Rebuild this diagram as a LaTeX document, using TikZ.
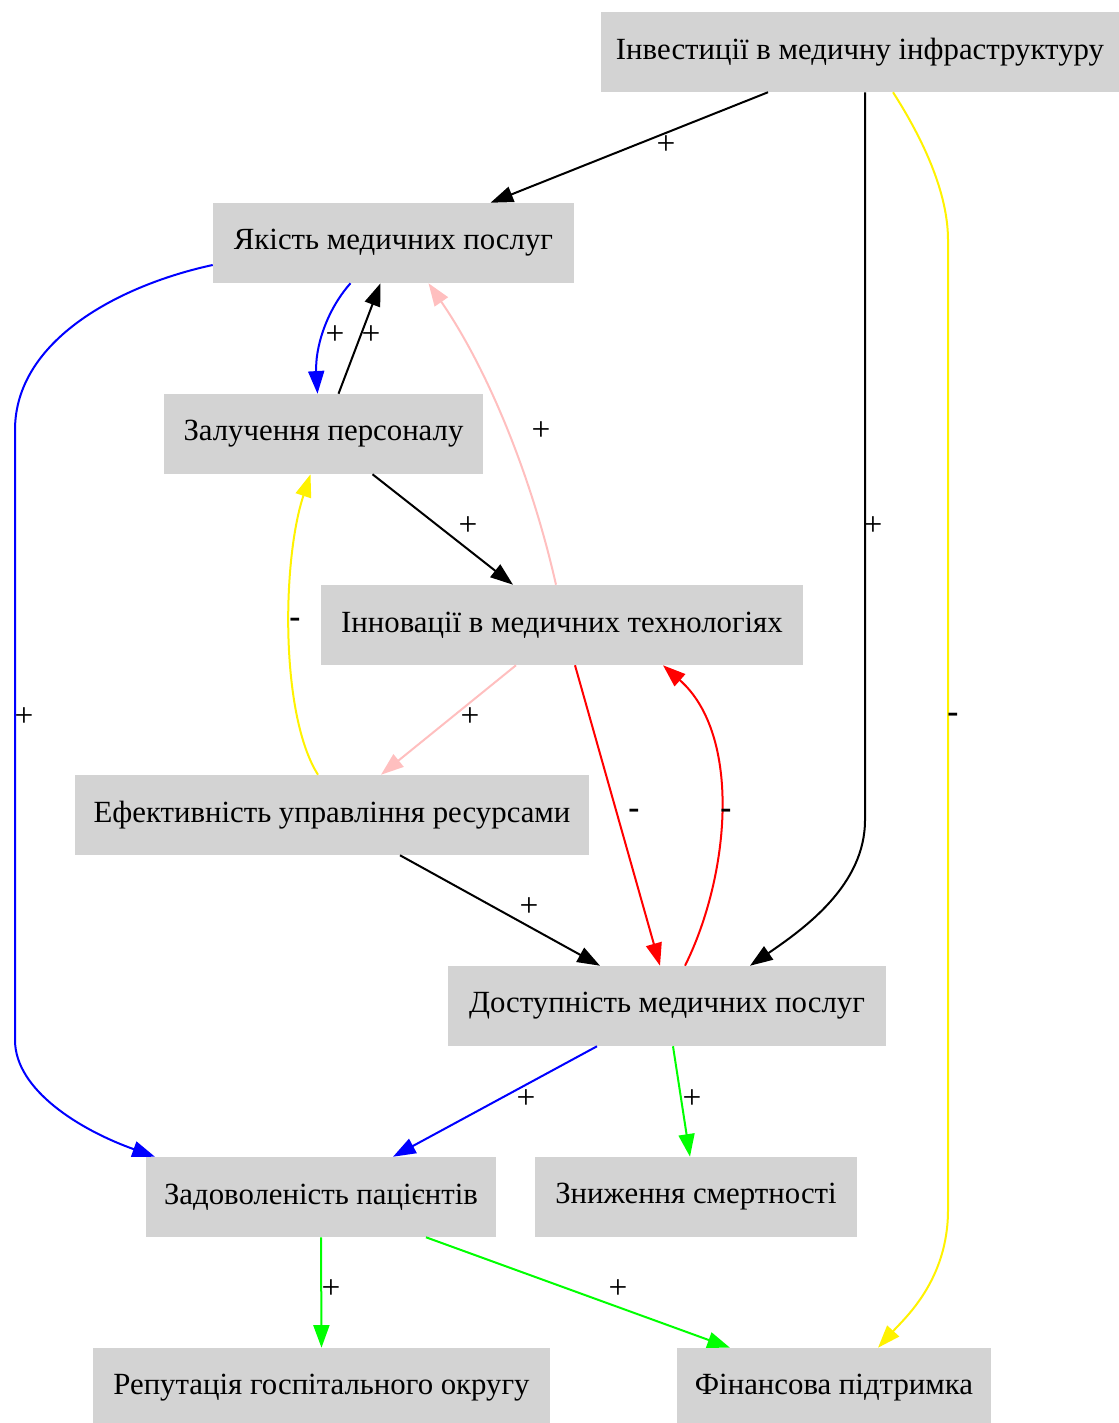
\documentclass[tikz,border=0pt]{standalone}
\usepackage{fontspec}
\setmainfont{Liberation Serif}
\usetikzlibrary{arrows.meta,calc}
\definecolor{boxgray}{RGB}{211,211,211}
\begin{document}
\begin{tikzpicture}[x=0.75pt,y=-0.75pt,
  box/.style={rectangle,fill=boxgray,inner sep=0pt,minimum height=80*0.75pt,font=\fontsize{23.1}{27}\selectfont},
  link/.style={line width=1.5pt,-{Triangle[length=17pt,width=12pt]}},
  sign/.style={font=\fontsize{25}{28}\selectfont,inner sep=0pt}]
\useasboundingbox (0,0) rectangle (1119,1423);

% concept nodes
\node[box,minimum width=518*0.75pt] (inv) at (860,52) {Інвестиції в медичну інфраструктуру};
\node[box,minimum width=361*0.75pt] (qual) at (393.5,243) {Якість медичних послуг};
\node[box,minimum width=319*0.75pt] (staff) at (323.5,434) {Залучення персоналу};
\node[box,minimum width=482*0.75pt] (innov) at (562,625) {Інновації в медичних технологіях};
\node[box,minimum width=514*0.75pt] (eff) at (332,815) {Ефективність управління ресурсами};
\node[box,minimum width=438*0.75pt] (acc) at (667,1006) {Доступність медичних послуг};
\node[box,minimum width=350*0.75pt] (sat) at (321,1197) {Задоволеність пацієнтів};
\node[box,minimum width=322*0.75pt] (mort) at (696,1197) {Зниження смертності};
\node[box,minimum width=457*0.75pt] (rep) at (321.5,1388) {Репутація госпітального округу};
\node[box,minimum width=314*0.75pt] (fin) at (834,1388) {Фінансова підтримка};

% causal links
\draw[link,black] ($(inv.south)+(-92,0)$) -- ($(qual.north)+(97,0)$);
\draw[link,black] ($(inv.south)+(5,0)$) -- (865,820) .. controls (865,885) and (805,928) .. ($(acc.north)+(83,0)$);
\draw[link,yellow] ($(inv.south)+(33,0)$) .. controls (930,150) and (948,200) .. (948,240) -- (948,1210) .. controls (948,1280) and (905,1318) .. ($(fin.north)+(44,0)$);
\draw[link,blue] ($(qual.south)+(-43,0)$) .. controls (325,312) and (315,350) .. ($(staff.north)+(-6,0)$);
\draw[link,black] ($(staff.north)+(15,0)$) -- ($(qual.south)+(-13,0)$);
\draw[link,blue] ($(qual.west)+(0,22)$) .. controls (120,285) and (15,340) .. (15,430) -- (15,1040) .. controls (15,1090) and (80,1130) .. ($(sat.north)+(-166,0)$);
\draw[link,pink] ($(innov.north)+(-6,0)$) .. controls (530,470) and (485,365) .. ($(qual.south)+(35,0)$);
\draw[link,black] ($(staff.south)+(49,0)$) -- ($(innov.north)+(-49,0)$);
\draw[link,yellow] ($(eff.north)+(-14,0)$) .. controls (280,715) and (282,560) .. ($(staff.south)+(-13,0)$);
\draw[link,pink] ($(innov.south)+(-46,0)$) -- ($(eff.north)+(49,0)$);
\draw[link,red] ($(innov.south)+(13,0)$) -- ($(acc.north)+(-7,0)$);
\draw[link,red] ($(acc.north)+(18,0)$) .. controls (730,875) and (742,735) .. ($(innov.south)+(101,0)$);
\draw[link,black] ($(eff.south)+(68,0)$) -- ($(acc.north)+(-67,0)$);
\draw[link,blue] ($(acc.south)+(-70,0)$) -- ($(sat.north)+(72,0)$);
\draw[link,green] ($(acc.south)+(6,0)$) -- ($(mort.north)+(-6,0)$);
\draw[link,green] (sat.south) -- (rep.north);
\draw[link,green] ($(sat.south)+(105,0)$) -- ($(fin.north)+(-104,0)$);

% polarity labels
\node[sign] (l1) at (666,145) {+};
\node[sign] (l2) at (873,526) {+};
\node[sign] (l3) at (953,718) {\textbf{-}};
\node[sign] (l4) at (335,335) {+};
\node[sign] (l5) at (371,335) {+};
\node[sign] (l6) at (24,717) {+};
\node[sign] (l7) at (541,431) {+};
\node[sign] (l8) at (468,526) {+};
\node[sign] (l9) at (295,623) {\textbf{-}};
\node[sign] (l10) at (470,717) {+};
\node[sign] (l11) at (634,814) {\textbf{-}};
\node[sign] (l12) at (726,814) {\textbf{-}};
\node[sign] (l13) at (529,907) {+};
\node[sign] (l14) at (526,1099) {+};
\node[sign] (l15) at (692,1099) {+};
\node[sign] (l16) at (331,1289) {+};
\node[sign] (l17) at (618,1289) {+};
\end{tikzpicture}
\end{document}
